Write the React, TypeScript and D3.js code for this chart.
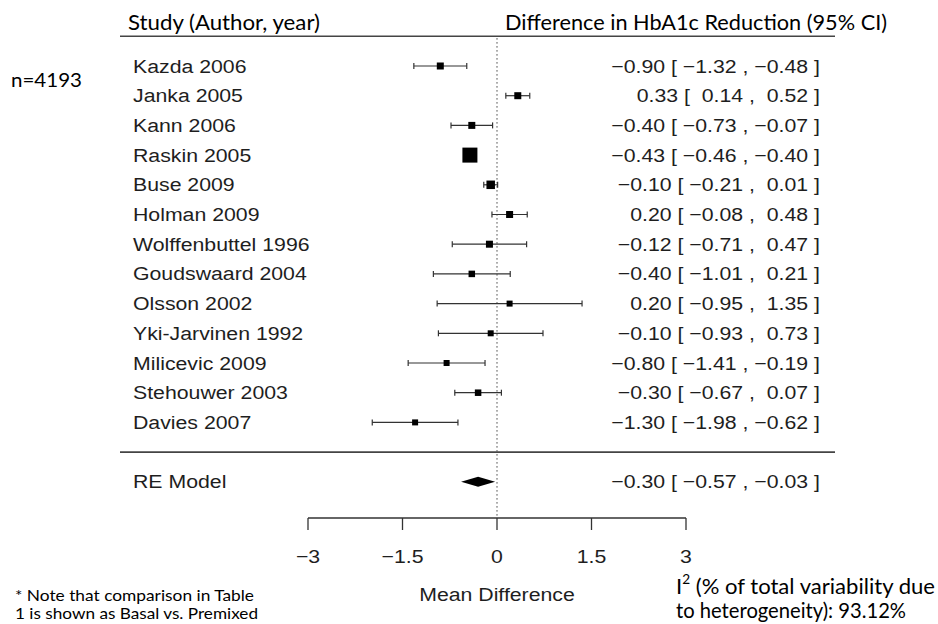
import React from 'react';
import * as d3 from 'd3';

// study rows, top to bottom
const studies = [
  'Kazda 2006', 'Janka 2005', 'Kann 2006', 'Raskin 2005', 'Buse 2009', 'Holman 2009',
  'Wolffenbuttel 1996', 'Goudswaard 2004', 'Olsson 2002', 'Yki-Jarvinen 1992',
  'Milicevic 2009', 'Stehouwer 2003', 'Davies 2007',
];
const estimate = [-0.9, 0.33, -0.4, -0.43, -0.1, 0.2, -0.12, -0.4, 0.2, -0.1, -0.8, -0.3, -1.3];
const lower = [-1.32, 0.14, -0.73, -0.46, -0.21, -0.08, -0.71, -1.01, -0.95, -0.93, -1.41, -0.67, -1.98];
const upper = [-0.48, 0.52, -0.07, -0.4, 0.01, 0.48, 0.47, 0.21, 1.35, 0.73, -0.19, 0.07, -0.62];
// relative weights (estimated from square size)
const weight = [7, 7, 7, 15, 8.5, 7, 7, 6.5, 6, 6, 6, 6.5, 6];

const reLabel = 'RE Model';
const reEstimate = -0.3;
const reLower = -0.57;
const reUpper = -0.03;

const xTicks = [-3, -1.5, 0, 1.5, 3];

const W = 938;
const H = 624;

const SANS = '"Liberation Sans", Arial, sans-serif';
const CAL = 'Lato, "Open Sans", sans-serif';

const minus = (s: string) => s.replace(/-/g, '\u2212');
const fmt = (v: number) => minus(v.toFixed(2)).padStart(5, ' ');
const ciText = (e: number, l: number, u: number) => `${fmt(e)} [ ${fmt(l)} , ${fmt(u)} ]`;

// horizontally stretched text like the original bitmap
const SText = ({ x, y, anchor = 'start', size = 19, children }: any) => (
  <g transform={`translate(${x},${y}) scale(1.12,1)`}>
    <text
      x={0}
      y={0}
      textAnchor={anchor}
      dominantBaseline="central"
      fontFamily={SANS}
      fontSize={size}
      fill="#1e1e1e"
      style={{ whiteSpace: 'pre' }}
    >
      {children}
    </text>
  </g>
);

// slide-style (Calibri-like) text, fitted to the width seen in the picture
const CText = ({ x, y, size, len, children }: any) => (
  <text
    x={x}
    y={y}
    dominantBaseline="central"
    fontFamily={CAL}
    fontSize={size}
    fill="#000"
    textLength={len}
    lengthAdjust="spacingAndGlyphs"
  >
    {children}
  </text>
);

export default function App() {
  const x = d3.scaleLinear().domain([-3, 3]).range([308, 686]);
  const y = d3.scaleLinear().domain([0, 14]).range([66, 481.8]);
  const size = d3.scaleLinear().domain([d3.min(weight)!, d3.max(weight)!]).range([6, 15]);

  const axisY = 518;
  const labelX = 133;
  const ciX = 820;
  const capH = 6;

  const diamond = d3.line()([
    [x(reLower), y(14)],
    [x(reEstimate), y(14) - 5],
    [x(reUpper), y(14)],
    [x(reEstimate), y(14) + 5],
  ]) + 'Z';

  return (
    <div style={{ position: 'absolute', left: 0, top: 0 }}>
      <svg width={W} height={H} style={{ display: 'block', background: '#fff' }}>
        {/* column headers */}
        <CText x={128} y={21} size={22} len={192}>Study (Author, year)</CText>
        <CText x={505} y={21} size={22} len={382}>Difference in HbA1c Reduction (95% CI)</CText>
        <CText x={11} y={79} size={20} len={71}>n=4193</CText>

        <line x1={120} x2={835} y1={y(-1)} y2={y(-1)} stroke="#444" strokeWidth={1.6} />
        <line x1={120} x2={835} y1={y(13)} y2={y(13)} stroke="#444" strokeWidth={1.6} />

        {/* reference line at 0 */}
        <line
          x1={x(0)}
          x2={x(0)}
          y1={y(-1) + 2}
          y2={axisY}
          stroke="#555"
          strokeWidth={1.3}
          strokeDasharray="1.3 2.7"
        />

        {studies.map((s, i) => {
          const cy = y(i);
          const sz = size(weight[i]);
          return (
            <g key={s}>
              <SText x={labelX} y={cy}>{s}</SText>
              <SText x={ciX} y={cy} anchor="end">{ciText(estimate[i], lower[i], upper[i])}</SText>
              <line x1={x(lower[i])} x2={x(upper[i])} y1={cy} y2={cy} stroke="#333" strokeWidth={1.2} />
              <line x1={x(lower[i])} x2={x(lower[i])} y1={cy - capH / 2} y2={cy + capH / 2} stroke="#333" strokeWidth={1.2} />
              <line x1={x(upper[i])} x2={x(upper[i])} y1={cy - capH / 2} y2={cy + capH / 2} stroke="#333" strokeWidth={1.2} />
              <rect x={x(estimate[i]) - sz / 2} y={cy - sz / 2} width={sz} height={sz} fill="#000" />
            </g>
          );
        })}

        {/* summary */}
        <SText x={labelX} y={y(14)}>{reLabel}</SText>
        <SText x={ciX} y={y(14)} anchor="end">{ciText(reEstimate, reLower, reUpper)}</SText>
        <path d={diamond} fill="#000" />

        {/* x axis */}
        <line x1={x(-3)} x2={x(3)} y1={axisY} y2={axisY} stroke="#333" strokeWidth={1.3} />
        {xTicks.map((t) => (
          <g key={t}>
            <line x1={x(t)} x2={x(t)} y1={axisY} y2={axisY + 12} stroke="#333" strokeWidth={1.3} />
            <SText x={x(t)} y={556} anchor="middle">{minus(String(t))}</SText>
          </g>
        ))}
        <SText x={x(0)} y={594} anchor="middle">Mean Difference</SText>

        {/* notes */}
        <CText x={15} y={594} size={16} len={239}>* Note that comparison in Table</CText>
        <CText x={15} y={612} size={16} len={243}>1 is shown as Basal vs. Premixed</CText>
        <CText x={676} y={585} size={21} len={259}>
          I<tspan dy={-6} fontSize={13}>2</tspan><tspan dy={6}> (% of total variability due</tspan>
        </CText>
        <CText x={676} y={609} size={21} len={230}>to heterogeneity): 93.12%</CText>
      </svg>
    </div>
  );
}
